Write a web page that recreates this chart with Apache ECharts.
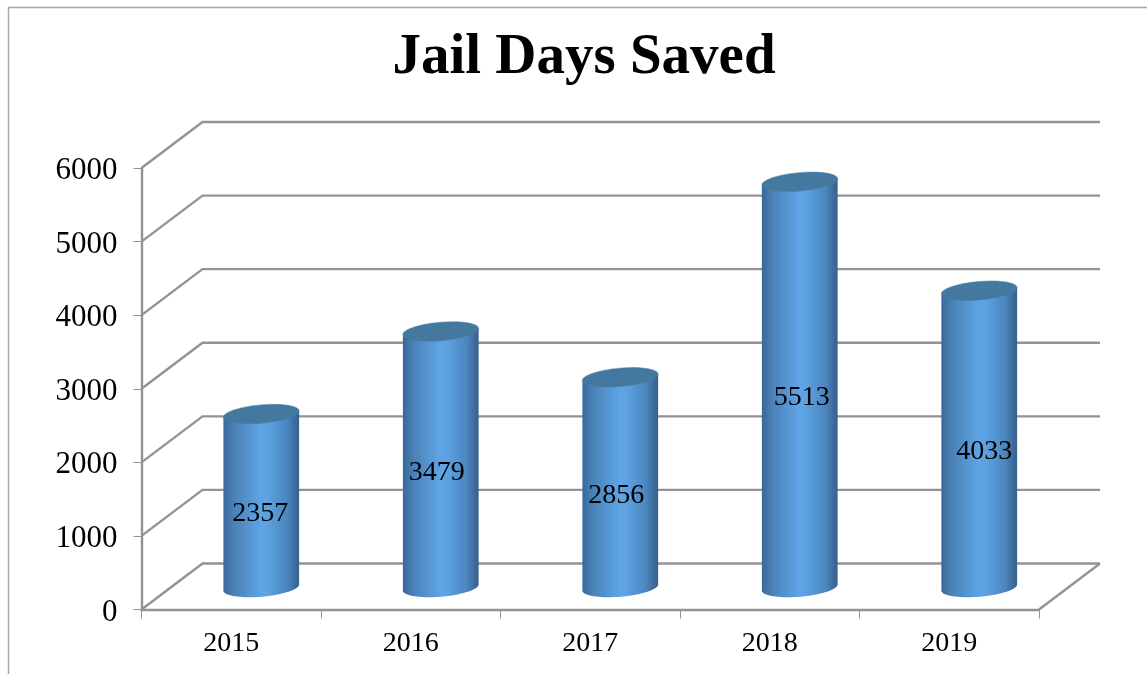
<!DOCTYPE html>
<html>
<head>
<meta charset="utf-8">
<style>html,body{margin:0;padding:0;background:#fff}#c{width:1147px;height:674px}</style>
<script src="https://cdn.jsdelivr.net/npm/echarts@6/dist/echarts.min.js"></script>
</head>
<body>
<div id="c"></div>
<script>
const categories = ['2015', '2016', '2017', '2018', '2019'];
const jailDaysSaved = [2357, 3479, 2856, 5513, 4033];
const yTicks = [0, 1000, 2000, 3000, 4000, 5000, 6000];
const chartTitle = 'Jail Days Saved';

const FONT = '"Liberation Serif", serif';
const GRID_COLOR = '#939393';
const DEPTH_X = 61, DEPTH_Y = 46;      // offset of the back wall
const BAR_DX = 30, BAR_DY = 22;        // bars stand mid-depth
const RX = 38, RY = 9.2, TILT = -5 * Math.PI / 180;
const LABEL_DX = [-1, -4, -4, 2, 5];
const LABEL_DY = 13;

function ellipsePoint(cx, cy, t) {
  const x = RX * Math.cos(t), y = RY * Math.sin(t);
  return [cx + x * Math.cos(TILT) - y * Math.sin(TILT), cy + x * Math.sin(TILT) + y * Math.cos(TILT)];
}

function renderFrame(params, api) {
  const cs = params.coordSys;
  const y = api.coord([0, api.value(0)])[1];
  const x0 = cs.x, x1 = cs.x + cs.width;
  const style = { stroke: GRID_COLOR, lineWidth: 2.4, fill: null };
  const children = [
    { type: 'polyline', shape: { points: [[x0, y], [x0 + DEPTH_X, y - DEPTH_Y], [x1 + DEPTH_X, y - DEPTH_Y]] }, style }
  ];
  if (params.dataIndex === 0) {
    children.push({ type: 'line', shape: { x1: x1, y1: y, x2: x1 + DEPTH_X, y2: y - DEPTH_Y }, style });
  }
  return { type: 'group', children };
}

function renderBar(params, api) {
  const i = api.value(0), v = api.value(1);
  const top = api.coord([i, v]), base = api.coord([i, 0]);
  const cx = top[0] + BAR_DX, yTop = top[1] - BAR_DY, yBase = base[1] - BAR_DY;
  const pts = [];
  pts.push(ellipsePoint(cx, yTop, Math.PI));
  pts.push(ellipsePoint(cx, yTop, 0));
  for (let k = 0; k <= 40; k++) pts.push(ellipsePoint(cx, yBase, Math.PI * k / 40));
  const body = new echarts.graphic.LinearGradient(0, 0, 1, 0, [
    { offset: 0, color: '#38689a' },
    { offset: 0.14, color: '#4a82b8' },
    { offset: 0.5, color: '#5fa5e6' },
    { offset: 0.58, color: '#5da2e2' },
    { offset: 0.84, color: '#4b86bf' },
    { offset: 1, color: '#365f88' }
  ]);
  return {
    type: 'group',
    children: [
      { type: 'polygon', shape: { points: pts }, style: { fill: body } },
      {
        type: 'ellipse',
        shape: { cx: cx, cy: yTop, rx: RX, ry: RY },
        rotation: -TILT, originX: cx, originY: yTop,
        style: { fill: '#44789f', stroke: '#4a80aa', lineWidth: 0.5 }
      },
      {
        type: 'text',
        x: cx + LABEL_DX[i], y: (yTop + yBase) / 2 + LABEL_DY,
        style: { text: String(v), fill: '#000', font: '28px ' + FONT, align: 'center', verticalAlign: 'middle' }
      }
    ]
  };
}

const chart = echarts.init(document.getElementById('c'), null, { renderer: 'canvas', width: 1147, height: 674 });
chart.setOption({
  animation: false,
  backgroundColor: '#ffffff',
  title: {
    text: chartTitle, left: 579, top: 25, textAlign: 'center',
    textStyle: { fontFamily: FONT, fontWeight: 'bold', fontSize: 57, color: '#000' }
  },
  grid: { left: 141.5, right: 108, top: 168, bottom: 64.5, containLabel: false },
  xAxis: {
    type: 'category', data: categories,
    axisLine: { lineStyle: { color: GRID_COLOR, width: 2.4 } },
    axisTick: { show: true, length: 9, alignWithLabel: false, lineStyle: { color: GRID_COLOR, width: 1 } },
    axisLabel: { margin: 20, color: '#000', fontFamily: FONT, fontSize: 28 },
    splitLine: { show: false }
  },
  yAxis: {
    type: 'value', min: 0, max: 6000, interval: 1000,
    axisLine: { show: true, lineStyle: { color: GRID_COLOR, width: 2.4 } },
    axisTick: { show: true, length: 8, lineStyle: { color: GRID_COLOR, width: 1 } },
    axisLabel: { margin: 24, color: '#000', fontFamily: FONT, fontSize: 31, verticalAlign: 'top', lineHeight: 6, formatter: v => String(v) },
    splitLine: { show: false }
  },
  graphic: [
    { type: 'polyline', silent: true, shape: { points: [[1147, 7.5], [8.5, 7.5], [8.5, 674]] },
      style: { stroke: '#a6a6a6', lineWidth: 1.5, fill: null } }
  ],
  series: [
    {
      type: 'custom', name: 'frame', z: 1, silent: true,
      data: yTicks.map(t => [t]),
      encode: { y: 0 },
      renderItem: renderFrame
    },
    {
      type: 'custom', name: 'Jail Days Saved', z: 5, silent: true,
      data: jailDaysSaved.map((v, i) => [i, v]),
      encode: { x: 0, y: 1 },
      renderItem: renderBar
    }
  ]
});
</script>
</body>
</html>
